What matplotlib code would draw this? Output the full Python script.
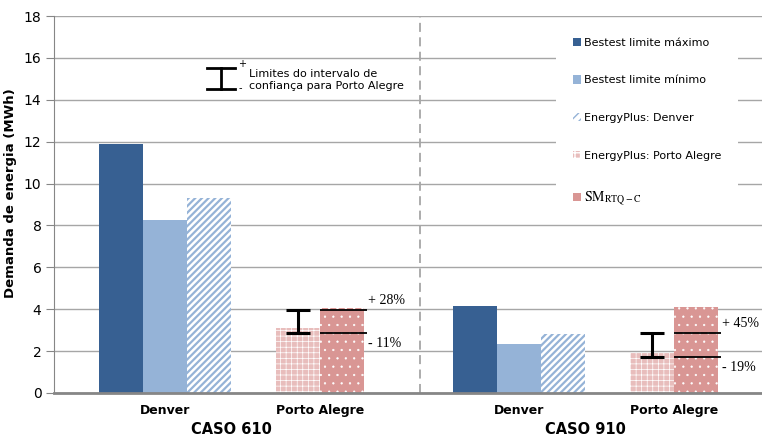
import numpy as np
import matplotlib
matplotlib.use("Agg")
import matplotlib.pyplot as plt
from matplotlib.patches import Patch

# data
cases = ["CASO 610", "CASO 910"]
cities = ["Denver", "Porto Alegre"]
bestest_max = [11.9, 4.13]
bestest_min = [8.24, 2.33]
ep_denver = [9.31, 2.82]
ep_poa = [3.12, 1.90]
sm_rtq = [4.08, 4.09]
ci_upper = [3.98, 2.87]
ci_lower = [2.87, 1.71]
pct_upper = ["+ 28%", "+ 45%"]
pct_lower = ["- 11%", "- 19%"]

c_dark = "#376092"
c_light = "#95B3D7"
c_pink = "#D99694"
c_pink_lt = "#E8BDBC"
grid_c = "#A6A6A6"
axis_c = "#868686"

plt.rcParams["mathtext.fontset"] = "stix"

W, H = 762, 437
fig = plt.figure(figsize=(W / 100, H / 100), dpi=100)
ax = fig.add_axes([54 / W, 1 - 393 / H, 708 / W, 377 / H])


def fx(x):
    return x / W


def fy(y):
    return 1 - y / H


def hatch_lw(bars, lw):
    for b in bars:
        if hasattr(b, "set_hatch_linewidth"):
            b.set_hatch_linewidth(lw)


# group centres, in bar-width units
denver_x = np.array([2.52, 10.57])
poa_x = np.array([6.05, 14.09])

ax.bar(denver_x - 1, bestest_max, width=1, color=c_dark, zorder=2)
ax.bar(denver_x, bestest_min, width=1, color=c_light, zorder=2)
with plt.rc_context({"hatch.linewidth": 1.6}):
    b = ax.bar(denver_x + 1, ep_denver, width=1, facecolor="white",
               edgecolor=c_light, hatch="/////", linewidth=0, zorder=2)
hatch_lw(b, 1.6)
with plt.rc_context({"hatch.linewidth": 0.5}):
    b = ax.bar(poa_x - 0.5, ep_poa, width=1, facecolor=c_pink_lt,
               edgecolor="white", hatch="+++", linewidth=0, zorder=2)
hatch_lw(b, 0.5)
with plt.rc_context({"hatch.linewidth": 0.4}):
    b = ax.bar(poa_x + 0.5, sm_rtq, width=1, facecolor=c_pink,
               edgecolor="white", hatch="..", linewidth=0, zorder=2)
hatch_lw(b, 0.4)

# confidence interval for Porto Alegre
lo = np.array(ci_lower)
up = np.array(ci_upper)
mid = (lo + up) / 2
ax.errorbar(poa_x - 0.5, mid, yerr=[mid - lo, up - mid], fmt="none",
            ecolor="black", elinewidth=2.2, capsize=8.5, capthick=2.2, zorder=4)
ax.hlines(up, poa_x, poa_x + 1.06, color="black", lw=1.3, zorder=4)
ax.hlines(lo, poa_x, poa_x + 1.06, color="black", lw=1.3, zorder=4)
for i in range(2):
    ax.text(poa_x[i] + 1.08, up[i] + 0.12, pct_upper[i], ha="left", va="bottom",
            family="Liberation Serif", fontsize=10)
    ax.text(poa_x[i] + 1.08, lo[i] - 0.2, pct_lower[i], ha="left", va="top",
            family="Liberation Serif", fontsize=10)

# separator between the two cases
ax.axvline(8.32, color=grid_c, ls=(0, (5, 3)), lw=1.3, zorder=1)

ax.set_xlim(0, 16.09)
ax.set_ylim(0, 18)
ax.set_yticks(range(0, 19, 2))
ax.yaxis.grid(True, color=grid_c, lw=1)
ax.set_axisbelow(True)
for s in ["top", "right"]:
    ax.spines[s].set_visible(False)
ax.spines["left"].set_color(axis_c)
ax.spines["bottom"].set_color(axis_c)
ax.spines["bottom"].set_linewidth(2)
ax.tick_params(axis="y", color=axis_c, length=6, labelsize=10, pad=3)

xt = [denver_x[0], poa_x[0], denver_x[1], poa_x[1]]
ax.set_xticks(xt)
ax.set_xticklabels(cities * 2, fontweight="bold", fontsize=9)
ax.tick_params(axis="x", length=0, pad=8)

for i, case in enumerate(cases):
    xc = (denver_x[i] - 1.5 + poa_x[i] + 1) / 2
    ax.text(xc, -0.108, case, transform=ax.get_xaxis_transform(),
            ha="center", va="baseline", fontweight="bold", fontsize=10.5)

ax.set_ylabel("Demanda de energia (MWh)", fontsize=9.5, fontweight="bold")
ax.yaxis.set_label_coords(-0.052, 0.53)

# legend of the interval symbol
ax.plot([fx(207), fx(235)], [fy(68), fy(68)], color="black", lw=2,
        transform=fig.transFigure, clip_on=False)
ax.plot([fx(207), fx(235)], [fy(89), fy(89)], color="black", lw=2,
        transform=fig.transFigure, clip_on=False)
ax.plot([fx(221), fx(221)], [fy(68), fy(89)], color="black", lw=2,
        transform=fig.transFigure, clip_on=False)
fig.text(fx(238), fy(64), "+", fontsize=7, ha="left", va="center")
fig.text(fx(239), fy(88), "-", fontsize=7, ha="left", va="center")
fig.text(fx(249), fy(80), "Limites do intervalo de\nconfiança para Porto Alegre",
         fontsize=8, ha="left", va="center", linespacing=1.25)

handles = [
    Patch(facecolor=c_dark),
    Patch(facecolor=c_light),
    Patch(facecolor="white", edgecolor=c_light, hatch="////", linewidth=0),
    Patch(facecolor=c_pink_lt, edgecolor="white", hatch="+++", linewidth=0),
    Patch(facecolor=c_pink, edgecolor="white", hatch=".", linewidth=0),
]
labels = ["Bestest limite máximo", "Bestest limite mínimo",
          "EnergyPlus: Denver", "EnergyPlus: Porto Alegre",
          r"$\mathrm{SM}_{\mathrm{RTQ-C}}$"]
leg = ax.legend(handles, labels, loc="upper left",
                bbox_to_anchor=((556 - 54) / 708, (393 - 21) / 377),
                borderaxespad=0, fontsize=8, labelspacing=2.5,
                handlelength=0.75, handleheight=0.75, handletextpad=0.25,
                borderpad=1.5, frameon=True, fancybox=False,
                edgecolor="none", facecolor="white", framealpha=1)
leg.get_texts()[-1].set_fontsize(10)

fig.savefig("out.png", dpi=100)
